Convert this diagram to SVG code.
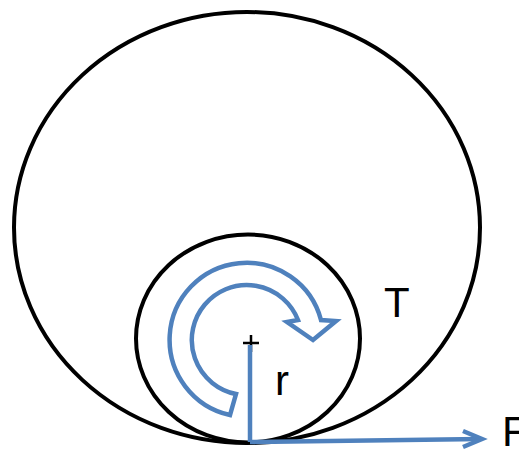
<svg xmlns="http://www.w3.org/2000/svg" width="519" height="450" viewBox="0 0 519 450">
<style>
.ring{fill:none;stroke:#000;stroke-width:4}
.blue{fill:none;stroke:#4F81BD;stroke-width:4.5;stroke-linejoin:miter}
.lbl{font-family:"Liberation Sans",Arial,sans-serif;font-size:42px;fill:#000}
</style>
<rect width="519" height="450" fill="#fff"/>
<g id="outer"><ellipse class="ring" cx="247" cy="227.5" rx="233" ry="215.5"/></g>
<g id="inner"><ellipse class="ring" cx="248" cy="338.5" rx="112" ry="104"/></g>
<g id="torque"><path class="blue" d="M230,415 A77,77 0 1 1 321,320 L336,321 L313,340 L287,322 L298,320 A55,55 0 1 0 236,394 Z"/></g>
<g id="center"><path d="M243,343 H259 M251,335 V352" stroke="#000" stroke-width="2.5"/></g>
<g id="connectors">
<path class="blue" d="M250,345 V442"/>
<path class="blue" d="M250,442 L481,439"/>
<path class="blue" d="M463,431 L482,439 L463,447"/>
</g>
<g id="labels">
<text class="lbl" x="384" y="317">T</text>
<text class="lbl" x="275" y="395" font-size="46">r</text>
<text class="lbl" x="502" y="446">F</text>
</g>
</svg>
